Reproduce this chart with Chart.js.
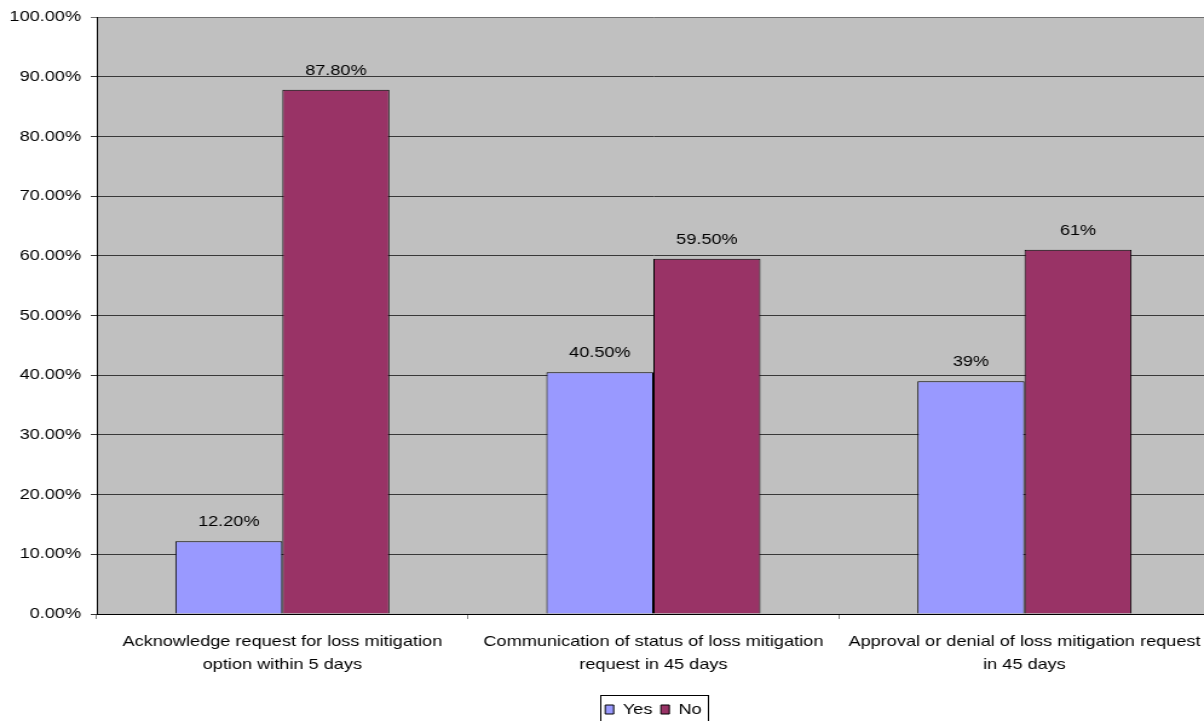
<!DOCTYPE html>
<html>
<head>
<meta charset="utf-8">
<script src="https://cdn.jsdelivr.net/npm/chart.js@4/dist/chart.umd.min.js"></script>
<style>
  html, body { margin: 0; padding: 0; background: #fff; overflow: hidden; }
  /* the chart is laid out narrow and stretched sideways */
  #wrap { width: 1009px; height: 721px; transform: scaleX(1.21); transform-origin: 0 0; }
</style>
</head>
<body>
<div id="wrap"><canvas id="chart" width="1009" height="721"></canvas></div>
<script>
const CATEGORIES = [
  ['Acknowledge request for loss mitigation', 'option within 5 days'],
  ['Communication of status of loss mitigation', 'request in 45 days'],
  ['Approval or denial of loss mitigation request', 'in 45 days']
];
const YES_VALUES = [12.2, 40.5, 39];
const NO_VALUES = [87.8, 59.5, 61];
// decimals shown in each value label
const YES_DECIMALS = [2, 2, 0];
const NO_DECIMALS = [2, 2, 0];

const FONT = '"Liberation Sans", Arial, sans-serif';
const PLOT_BG = '#c0c0c0';

const plotBackground = {
  id: 'plotBackground',
  beforeDraw(chart) {
    const { ctx, chartArea: a } = chart;
    ctx.save();
    ctx.fillStyle = PLOT_BG;
    ctx.fillRect(a.left, a.top, a.right - a.left, a.bottom - a.top);
    ctx.restore();
  }
};

const valueLabels = {
  id: 'valueLabels',
  afterDatasetsDraw(chart) {
    const { ctx } = chart;
    chart.data.datasets.forEach((dataset, i) => {
      const meta = chart.getDatasetMeta(i);
      meta.data.forEach((bar, j) => {
        const v = dataset.data[j];
        const text = v.toFixed(dataset.decimals[j]) + '%';
        ctx.save();
        ctx.fillStyle = '#000';
        ctx.font = '15px ' + FONT;
        ctx.textAlign = 'center';
        ctx.textBaseline = 'alphabetic';
        ctx.fillText(text, bar.x, bar.y - 15);
        ctx.restore();
      });
    });
  }
};

// thin frame round the legend
const legendFrame = {
  id: 'legendFrame',
  afterDraw(chart) {
    const legend = chart.legend;
    if (!legend || !legend.legendHitBoxes.length) return;
    const boxes = legend.legendHitBoxes;
    const first = boxes[0];
    const last = boxes[boxes.length - 1];
    const left = first.left - 4;
    const right = last.left + last.width + 5;
    const top = first.top + first.height / 2 - 15;
    const { ctx } = chart;
    ctx.save();
    ctx.strokeStyle = '#000';
    ctx.lineWidth = 1;
    ctx.strokeRect(Math.round(left) + 0.5, Math.round(top) + 0.5, Math.round(right - left), 40);
    ctx.restore();
  }
};

new Chart(document.getElementById('chart'), {
  type: 'bar',
  data: {
    labels: CATEGORIES,
    datasets: [
      {
        label: 'Yes',
        data: YES_VALUES,
        decimals: YES_DECIMALS,
        backgroundColor: '#9999ff',
        borderColor: '#000',
        borderWidth: 1,
        categoryPercentage: 0.577,
        barPercentage: 1
      },
      {
        label: 'No',
        data: NO_VALUES,
        decimals: NO_DECIMALS,
        backgroundColor: '#993366',
        borderColor: '#000',
        borderWidth: 1,
        categoryPercentage: 0.577,
        barPercentage: 1
      }
    ]
  },
  options: {
    responsive: false,
    animation: false,
    layout: { padding: { top: 15, left: 0, right: 9, bottom: -6 } },
    plugins: {
      tooltip: { enabled: false },
      legend: {
        position: 'bottom',
        fullSize: false,
        labels: {
          color: '#000',
          font: { family: FONT, size: 15 },
          boxWidth: 7,
          boxHeight: 9,
          padding: 7
        }
      }
    },
    scales: {
      x: {
        afterFit(scale) { scale.height = 81; },
        grid: {
          offset: true,
          drawOnChartArea: false,
          drawTicks: true,
          tickLength: 5,
          color: '#808080'
        },
        border: { color: '#000', width: 1 },
        ticks: {
          color: '#000',
          padding: 12,
          maxRotation: 0,
          autoSkip: false,
          font: { family: FONT, size: 15, lineHeight: 1.5 }
        }
      },
      y: {
        min: 0,
        max: 100,
        afterFit(scale) { scale.width = 80; },
        grid: {
          color: (ctx) => (ctx.tick && ctx.tick.value === 100 ? '#707070' : '#383838'),
          tickLength: 5
        },
        border: { color: '#000', width: 1 },
        ticks: {
          stepSize: 10,
          color: '#000',
          padding: 8,
          font: { family: FONT, size: 15 },
          callback: (v) => v.toFixed(2) + '%'
        }
      }
    }
  },
  plugins: [plotBackground, valueLabels, legendFrame]
});
</script>
</body>
</html>
